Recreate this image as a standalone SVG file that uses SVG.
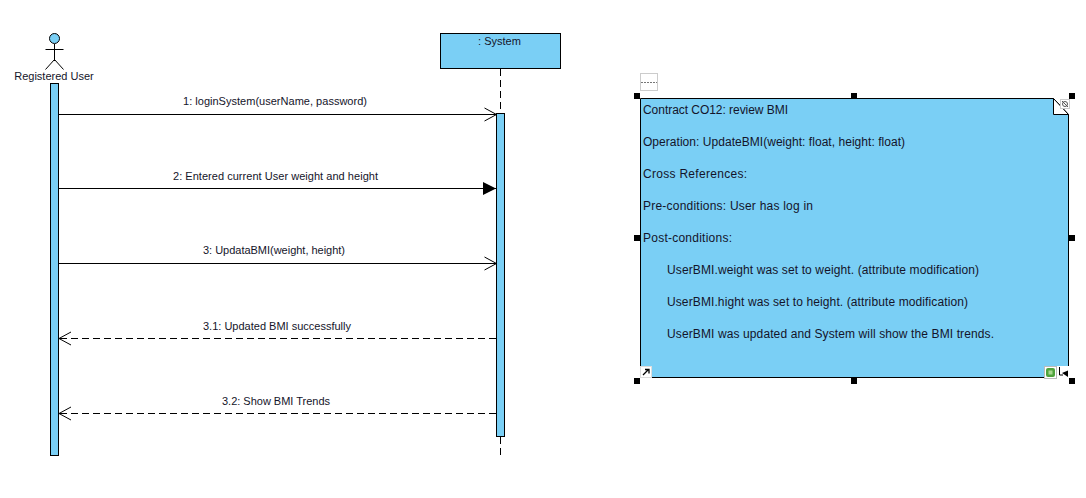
<svg xmlns="http://www.w3.org/2000/svg" width="1086" height="498" viewBox="0 0 1086 498">
<style>
text{font-family:"Liberation Sans",Arial,sans-serif;font-size:11px;fill:#14142a}
.b{fill:#7acff5;stroke:#000;stroke-width:1}
.l{fill:none;stroke:#000;stroke-width:1}
.d{stroke-dasharray:7 4}
.m{text-anchor:middle}
.n{font-size:12px}
.h{fill:#000}
</style>
<defs>
<marker id="open" markerUnits="userSpaceOnUse" markerWidth="16" markerHeight="16" refX="14" refY="8" orient="auto"><path d="M2 1.500L14 8L2 14.500" fill="none" stroke="#000"/></marker>
<marker id="filled" markerUnits="userSpaceOnUse" markerWidth="14" markerHeight="14" refX="13" refY="7" orient="auto"><path d="M0 .5L13 7L0 13.500Z" fill="#000"/></marker>
</defs>
<rect width="1086" height="498" fill="#fff"/>
<g id="connectors">
<path class="l d" d="M500.500 69V113"/>
<path class="l d" d="M500.500 437V458"/>
<path class="l" d="M59 114.500H496.500" marker-end="url(#open)"/>
<path class="l" d="M59 188.500H496" marker-end="url(#filled)"/>
<path class="l" d="M59 263.500H496.500" marker-end="url(#open)"/>
<path class="l d" d="M496 338.500H59" marker-end="url(#open)"/>
<path class="l d" d="M496 413.500H59" marker-end="url(#open)"/>
<text x="183" y="105" textLength="184">1: loginSystem(userName, password)</text>
<text x="173" y="180" textLength="205">2: Entered current User weight and height</text>
<text x="203" y="254" textLength="142">3: UpdataBMI(weight, height)</text>
<text x="203" y="330" textLength="148">3.1: Updated BMI successfully</text>
<text x="222" y="405" textLength="108">3.2: Show BMI Trends</text>
</g>
<g id="registered-user">
<circle class="b" cx="54.500" cy="38.500" r="5"/>
<path class="l" d="M54.500 44V61M45.500 49.500H63.500M54.500 59.500L45.500 69.500M54.500 59.500L63.500 69.500"/>
<text class="m" x="54" y="80">Registered User</text>
<rect class="b" x="50.500" y="83.500" width="8" height="372"/>
</g>
<g id="system">
<rect class="b" x="440.500" y="33.500" width="120" height="35"/>
<text class="m" x="499.500" y="45">: System</text>
<rect class="b" x="496.500" y="113.500" width="8" height="323"/>
</g>
<g id="contract-note">
<rect x="640.500" y="73.500" width="17" height="17" fill="#fff" stroke="#ccc"/>
<path d="M641 82.500H657" stroke="#777" stroke-dasharray="2 1"/>
<path class="b" d="M640.500 98.500H1053.500L1068.500 114.500V377.500H640.500Z"/>
<path d="M1053.500 98.500V114.500H1068.500Z" fill="#fff" stroke="#000"/>
<text class="n" x="643" y="114" textLength="145">Contract CO12: review BMI</text>
<text class="n" x="643" y="146" textLength="262">Operation: UpdateBMI(weight: float, height: float)</text>
<text class="n" x="643" y="178" textLength="104">Cross References:</text>
<text class="n" x="643" y="210" textLength="170">Pre-conditions: User has log in</text>
<text class="n" x="643" y="242" textLength="89">Post-conditions:</text>
<text class="n" x="667" y="274" textLength="312">UserBMI.weight was set to weight. (attribute modification)</text>
<text class="n" x="667" y="306" textLength="301">UserBMI.hight was set to height. (attribute modification)</text>
<text class="n" x="667" y="338" textLength="327">UserBMI was updated and System will show the BMI trends.</text>
<g id="selection-handles">
<rect class="h" x="634" y="93" width="6" height="6"/>
<rect class="h" x="851" y="93" width="6" height="6"/>
<rect class="h" x="1069" y="93" width="6" height="6"/>
<rect class="h" x="634" y="235" width="6" height="6"/>
<rect class="h" x="1069" y="235" width="6" height="6"/>
<rect class="h" x="634" y="378" width="6" height="6"/>
<rect class="h" x="851" y="378" width="6" height="6"/>
<rect class="h" x="1069" y="378" width="6" height="6"/>
</g>
<g id="note-icons">
<rect x="1060.500" y="99.500" width="9" height="9" fill="#fff" stroke="#ccc"/>
<circle cx="1065" cy="104" r="2.500" fill="none" stroke="#555"/>
<path d="M1062 101L1068 107" stroke="#555"/>
<rect x="640.500" y="366.500" width="11" height="11" fill="#fff" stroke="#ddd"/>
<path d="M643 375L648 370M645 369.500H649V373.500" fill="none" stroke="#000" stroke-width="1.300"/>
<rect x="1057" y="366" width="12" height="13" fill="#fff"/>
<rect x="1044.500" y="366.500" width="12" height="12" fill="#fff" stroke="#bbb"/>
<rect x="1046" y="368" width="9" height="9" rx="2" fill="#4fa33c"/>
<rect x="1048.500" y="370.500" width="4" height="4" fill="#a8d890"/>
<path d="M1059.500 367V375H1063" fill="none" stroke="#000"/>
<path d="M1062 373L1068 370.500V377Z" fill="#000"/>
</g>
</g>
</svg>
